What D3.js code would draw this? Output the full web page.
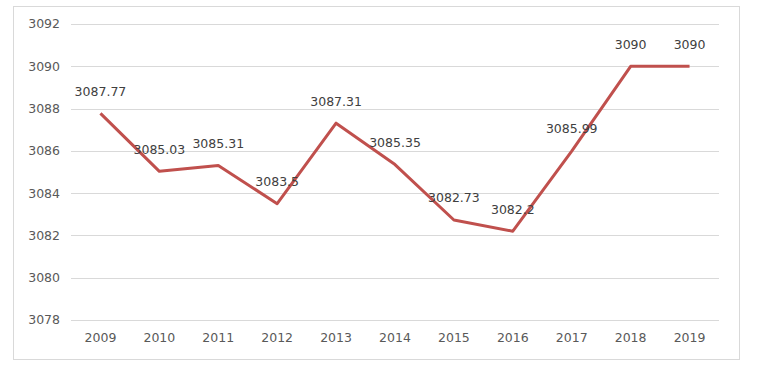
<!DOCTYPE html>
<html><head><meta charset="utf-8">
<script src="https://cdn.jsdelivr.net/npm/d3@7"></script>
<style>body{margin:0;background:#fff}svg{display:block}</style>
</head><body>
<script>
const years = ["2009","2010","2011","2012","2013","2014","2015","2016","2017","2018","2019"];
const values = [3087.77,3085.03,3085.31,3083.5,3087.31,3085.35,3082.73,3082.2,3085.99,3090,3090];
const labels = ["3087.77","3085.03","3085.31","3083.5","3087.31","3085.35","3082.73","3082.2","3085.99","3090","3090"];
const yTicks = [3078,3080,3082,3084,3086,3088,3090,3092];

const W=757,H=373;
const svg=d3.select("body").append("svg").attr("width",W).attr("height",H);
svg.append("rect").attr("x",13.5).attr("y",6.5).attr("width",726).attr("height",353)
  .attr("fill","#fff").attr("stroke","#d9d9d9").attr("stroke-width",1);

const x=d3.scaleBand().domain(years).range([71,719]);
const y=d3.scaleLinear().domain([3078,3092]).range([320,24]);
const font="'DejaVu Sans', Verdana, sans-serif";

svg.append("g").selectAll("line").data(yTicks).join("line")
  .attr("x1",71).attr("x2",719).attr("y1",d=>Math.round(y(d))+0.5).attr("y2",d=>Math.round(y(d))+0.5)
  .attr("stroke","#d9d9d9").attr("stroke-width",1);

svg.append("g").selectAll("text").data(yTicks).join("text")
  .attr("x",60).attr("y",d=>y(d)).attr("dy","0.35em").attr("text-anchor","end")
  .attr("font-family",font).attr("font-size",12.5).attr("fill","#595959").text(d=>d);

svg.append("g").selectAll("text").data(years).join("text")
  .attr("x",d=>x(d)+x.bandwidth()/2).attr("y",338).attr("dy","0.35em").attr("text-anchor","middle")
  .attr("font-family",font).attr("font-size",12.5).attr("fill","#595959").text(d=>d);

const line=d3.line().x((d,i)=>x(years[i])+x.bandwidth()/2).y(d=>y(d));
svg.append("path").datum(values).attr("d",line).attr("fill","none")
  .attr("stroke","#C0504D").attr("stroke-width",3).attr("stroke-linejoin","round");

svg.append("g").selectAll("text").data(values).join("text")
  .attr("x",(d,i)=>x(years[i])+x.bandwidth()/2).attr("y",d=>y(d)-22).attr("dy","0.35em")
  .attr("text-anchor","middle").attr("font-family",font).attr("font-size",12.5).attr("fill","#404040")
  .text((d,i)=>labels[i]);
</script>
</body></html>
